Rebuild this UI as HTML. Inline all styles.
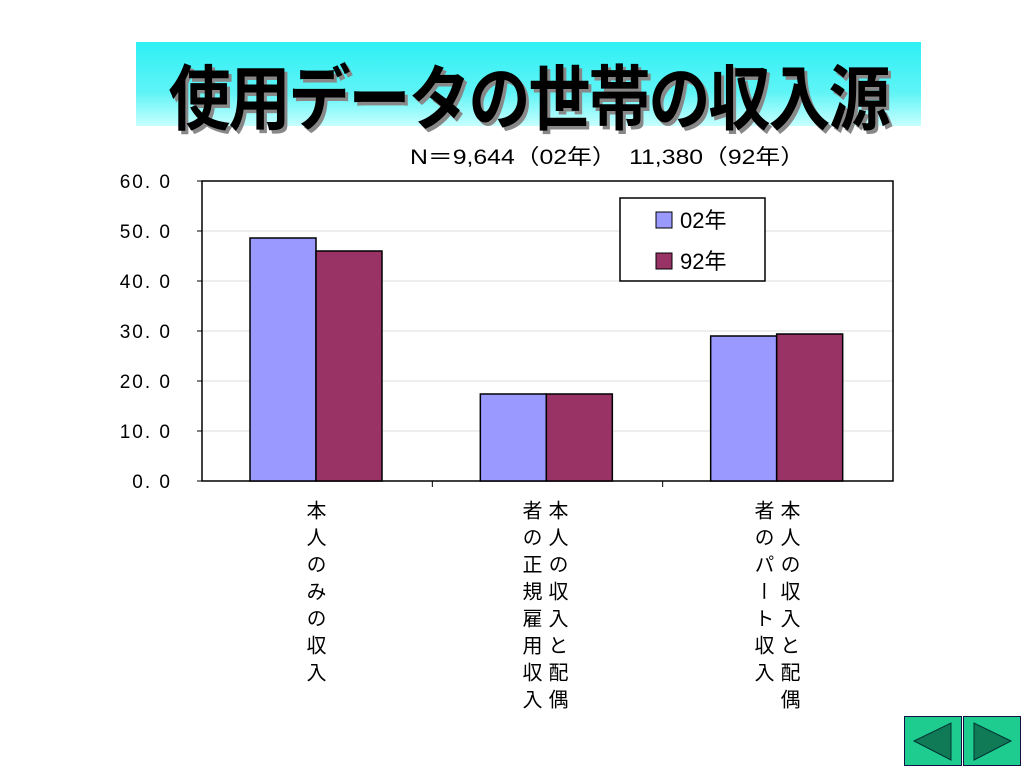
<!DOCTYPE html>
<html><head><meta charset="utf-8"><style>
body{margin:0;width:1024px;height:768px;background:#fff;position:relative;overflow:hidden;font-family:"Liberation Sans","Noto Sans CJK JP",sans-serif}
#title{position:absolute;left:136px;top:42px;width:785px;height:84px;background:linear-gradient(#2ef0f4,#5ff4f6 60%,#c8ffff);}
#title span{position:absolute;left:0;right:0;top:6px;text-align:center;font-size:62px;font-weight:bold;letter-spacing:-2px;color:#000;text-shadow:3px 3px 0 #888;font-family:"Noto Sans CJK JP",sans-serif;transform:scaleY(1.15)}
.vl{position:absolute;writing-mode:vertical-rl;font-size:20px;line-height:26px;letter-spacing:7px;font-family:"Noto Sans CJK JP",sans-serif;top:500px;white-space:nowrap}
</style></head><body>
<div id="title"><span>使用データの世帯の収入源</span></div>
<svg id="chart" width="1024" height="768" style="position:absolute;left:0;top:0"></svg>
<div>
<div class="vl" style="left:303px">本人のみの収入</div></div>
<div>
<div class="vl" style="left:545px">本人の収入と配偶</div>
<div class="vl" style="left:519px">者の正規雇用収入</div></div>
<div>
<div class="vl" style="left:777px">本人の収入と配偶</div>
<div class="vl" style="left:751px">者のパート収入</div></div>
<svg style="position:absolute;left:904px;top:716px" width="117" height="50">
<rect x="0.5" y="0.5" width="57" height="49" fill="#1fcc90" stroke="#114"/>
<polygon points="10,25 47,7 47,44" fill="#0f7a55" stroke="#033"/>
<rect x="59.5" y="0.5" width="57" height="49" fill="#1fcc90" stroke="#114"/>
<polygon points="107,25 70,7 70,44" fill="#0f7a55" stroke="#033"/>
</svg>
<script>
const categories=["本人のみの収入","本人の収入と配偶者の正規雇用収入","本人の収入と配偶者のパート収入"];
const series02=[48.6,17.4,29.0];
const series92=[46.0,17.4,29.4];
const yTicks=["0.0","10.0","20.0","30.0","40.0","50.0","60.0"];
const seriesNames=["02年","92年"];
const svg=document.getElementById('chart');
const NS='http://www.w3.org/2000/svg';
const X0=202,X1=893,Y0=481,Y1=181,YMAX=60;
const y=v=>Y0-(v/YMAX)*(Y0-Y1);
const gw=(X1-X0)/categories.length;
function mk(t,a){const e=document.createElementNS(NS,t);for(const k in a)e.setAttribute(k,a[k]);svg.appendChild(e);return e;}
let t=mk('text',{x:410,y:164,'font-size':21,textLength:395,lengthAdjust:'spacingAndGlyphs','font-family':'"Liberation Sans","Noto Sans CJK JP",sans-serif'});
t.textContent='N＝9,644（02年）　11,380（92年）';


yTicks.forEach(l=>{const v=parseFloat(l);const yy=y(v);
 if(v>0&&v<YMAX){const g=mk('line',{x1:X0,x2:X1,y1:yy,y2:yy,stroke:'#ddd'});
 
 }
 const tk=mk('line',{x1:X0-5,x2:X0,y1:yy,y2:yy,stroke:'#000'});
 
 
 const tx=mk('text',{x:172,y:yy+7,'font-size':19,'text-anchor':'end','letter-spacing':'2'});tx.textContent=l.replace('.','. ');
 
 });
const pa=mk('rect',{x:X0,y:Y1,width:X1-X0,height:Y0-Y1,fill:'none',stroke:'#000','stroke-width':1.5});


for(let i=1;i<categories.length;i++){const tk=mk('line',{x1:X0+gw*i,x2:X0+gw*i,y1:Y0,y2:Y0+6,stroke:'#000'});
 
 }
const bw=66;
categories.forEach((c,i)=>{const gx=X0+gw*i+48;
 const b1=mk('rect',{x:gx,y:y(series02[i]),width:bw,height:Y0-y(series02[i]),fill:'#9999ff',stroke:'#000','stroke-width':1.5});
 
 
 const b2=mk('rect',{x:gx+bw,y:y(series92[i]),width:bw,height:Y0-y(series92[i]),fill:'#993366',stroke:'#000','stroke-width':1.5});
 
 });
const lg=mk('rect',{x:620,y:198,width:145,height:83,fill:'#fff',stroke:'#000','stroke-width':1.5});


seriesNames.forEach((n,i)=>{const yy=212+i*41;
 const s=mk('rect',{x:656,y:yy,width:16,height:16,fill:i?'#993366':'#9999ff',stroke:'#000'});
 
 
 const tx=mk('text',{x:680,y:yy+16,'font-size':22});tx.textContent=n;
 
 });
</script>
</body></html>
